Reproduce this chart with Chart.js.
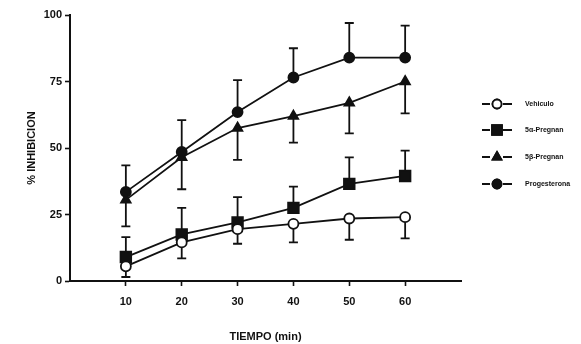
<!DOCTYPE html>
<html>
<head>
<meta charset="utf-8">
<script src="https://cdn.jsdelivr.net/npm/chart.js@4/dist/chart.umd.min.js"></script>
<style>
  html, body { margin: 0; padding: 0; background: #fff; }
  #wrap { width: 581px; height: 344px; }
</style>
</head>
<body>
<div id="wrap"><canvas id="grafica" width="581" height="344"></canvas></div>
<script>
// tiempos (min)
const tiempos = [10, 20, 30, 40, 50, 60];
const ticksX = [10, 20, 30, 40, 50, 60];
const ticksY = [0, 25, 50, 75, 100];

// nombres de las series
const nombres = ['Vehiculo', '5α-Pregnan', '5β-Pregnan', 'Progesterona'];

// % inhibicion
const vehiculo     = [5.5, 14.5, 19.5, 21.5, 23.5, 24];
const alfaPregnan  = [9, 17.5, 22, 27.5, 36.5, 39.5];
const betaPregnan  = [30.5, 46.5, 57.5, 62, 67, 75];
const progesterona = [33.5, 48.5, 63.5, 76.5, 84, 84];

// error estandar (solo se dibuja un lado)
const errVehiculo     = [4, 6, 5.5, 7, 8, 8];
const errAlfaPregnan  = [7.5, 10, 9.5, 8, 10, 9.5];
const errBetaPregnan  = [10, 12, 12, 10, 11.5, 12];
const errProgesterona = [10, 12, 12, 11, 13, 12];

const FUENTE = '"Liberation Sans", Arial, sans-serif';

function puntos(valores) {
  return tiempos.map((t, i) => ({ x: t, y: valores[i] }));
}

// radio de cada marcador (el cuadrado de Chart.js sale chico)
function radio(estilo) {
  if (estilo === 'rect') return 7.5;
  if (estilo === 'triangle') return 5.5;
  return 5;
}

function serie(nombre, valores, errores, sentido, estilo, relleno) {
  return {
    label: nombre,
    data: puntos(valores),
    errores: errores,
    sentido: sentido,
    borderColor: '#111',
    borderWidth: 1.8,
    pointStyle: estilo,
    pointRadius: radio(estilo),
    pointBackgroundColor: relleno,
    pointBorderColor: '#111',
    pointBorderWidth: 1.8,
    fill: false,
    tension: 0
  };
}

// barras de error con las escalas de la grafica
const barrasError = {
  id: 'barrasError',
  beforeDatasetsDraw(chart) {
    const ctx = chart.ctx;
    const y = chart.scales.y;
    ctx.save();
    ctx.strokeStyle = '#111';
    ctx.lineWidth = 1.8;
    chart.data.datasets.forEach((ds, i) => {
      const meta = chart.getDatasetMeta(i);
      meta.data.forEach((p, j) => {
        const fin = y.getPixelForValue(ds.data[j].y + ds.sentido * ds.errores[j]);
        ctx.beginPath();
        ctx.moveTo(p.x, p.y);
        ctx.lineTo(p.x, fin);
        ctx.moveTo(p.x - 4.5, fin);
        ctx.lineTo(p.x + 4.5, fin);
        ctx.stroke();
      });
    });
    ctx.restore();
  }
};

// leyenda a la derecha
const leyenda = {
  id: 'leyenda',
  afterDraw(chart) {
    const ctx = chart.ctx;
    const filas = [104, 130, 157, 184];
    ctx.save();
    chart.data.datasets.forEach((ds, i) => {
      const yy = filas[i];
      ctx.strokeStyle = '#111';
      ctx.lineWidth = 1.8;
      ctx.beginPath();
      ctx.moveTo(482, yy);
      ctx.lineTo(490, yy);
      ctx.moveTo(503, yy);
      ctx.lineTo(512, yy);
      ctx.stroke();
      Chart.helpers.drawPoint(ctx, {
        pointStyle: ds.pointStyle,
        radius: radio(ds.pointStyle) - 0.5,
        borderWidth: 1.8
      }, 497, yy);
      ctx.fillStyle = ds.pointBackgroundColor;
      ctx.strokeStyle = '#111';
      ctx.fill();
      ctx.stroke();
      ctx.fillStyle = '#111';
      ctx.font = 'bold 7px ' + FUENTE;
      ctx.textBaseline = 'middle';
      ctx.fillText(ds.label, 525, yy + 0.5);
    });
    ctx.restore();
  }
};

const ejes = {
  display: true,
  drawOnChartArea: false,
  drawTicks: true,
  tickLength: 5,
  tickWidth: 1.6,
  color: '#111'
};

new Chart(document.getElementById('grafica'), {
  type: 'line',
  data: {
    datasets: [
      serie(nombres[0], vehiculo, errVehiculo, -1, 'circle', '#fff'),
      serie(nombres[1], alfaPregnan, errAlfaPregnan, 1, 'rect', '#111'),
      serie(nombres[2], betaPregnan, errBetaPregnan, -1, 'triangle', '#111'),
      serie(nombres[3], progesterona, errProgesterona, 1, 'circle', '#111')
    ]
  },
  options: {
    responsive: false,
    animation: false,
    devicePixelRatio: 1,
    layout: { padding: { left: 21, right: 120, top: 15, bottom: 0 } },
    plugins: {
      legend: { display: false },
      tooltip: { enabled: false }
    },
    scales: {
      x: {
        type: 'linear',
        min: 0,
        max: 70,
        afterBuildTicks: (s) => { s.ticks = ticksX.map(v => ({ value: v })); },
        afterFit: (s) => { s.height = 63; },
        grid: ejes,
        border: { display: true, color: '#111', width: 2 },
        ticks: {
          color: '#111',
          padding: 9,
          font: { family: FUENTE, size: 11, weight: 'bold' }
        },
        title: {
          display: true,
          text: 'TIEMPO (min)',
          color: '#111',
          padding: { top: 0, bottom: 0 },
          font: { family: FUENTE, size: 11, weight: 'bold' }
        }
      },
      y: {
        min: 0,
        max: 100,
        afterBuildTicks: (s) => { s.ticks = ticksY.map(v => ({ value: v })); },
        afterFit: (s) => { s.width = 49; },
        grid: ejes,
        border: { display: true, color: '#111', width: 2 },
        ticks: {
          color: '#111',
          padding: 3,
          font: { family: FUENTE, size: 11, weight: 'bold' }
        },
        title: {
          display: true,
          text: '% INHIBICION',
          color: '#111',
          font: { family: FUENTE, size: 11, weight: 'bold' }
        }
      }
    }
  },
  plugins: [barrasError, leyenda]
});
</script>
</body>
</html>
